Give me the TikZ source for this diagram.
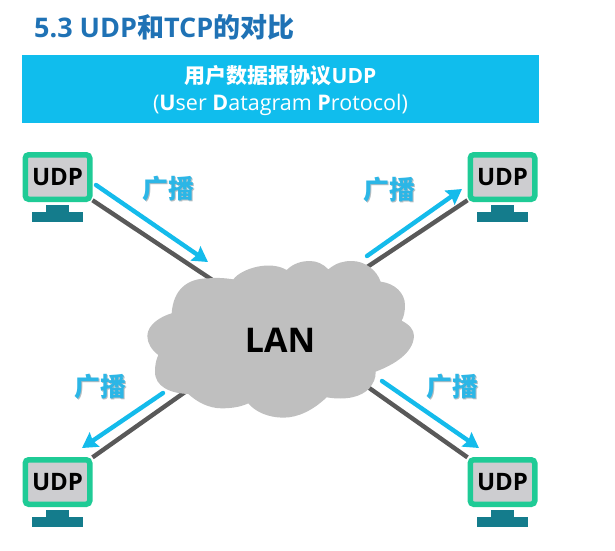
\documentclass[tikz,border=0pt]{standalone}
\usepackage{fontspec}
\setmainfont{Open Sans}
\newfontfamily\cjk{Noto Sans CJK SC}
\usetikzlibrary{arrows.meta,backgrounds}
\definecolor{bannerblue}{HTML}{10BDED}
\definecolor{titleblue}{HTML}{1F72B5}
\definecolor{arrowblue}{HTML}{14BBEB}
\definecolor{labelblue}{HTML}{2CB6E6}
\definecolor{labelshade}{HTML}{B5BCC0}
\definecolor{screengreen}{HTML}{1FCB96}
\definecolor{screengray}{HTML}{CDCDD0}
\definecolor{standteal}{HTML}{147C8C}
\definecolor{linegray}{HTML}{595959}
\definecolor{cloudgray}{HTML}{BFBFBF}
\newcommand{\sz}[1]{\fontsize{#1}{#1}\selectfont}
\newcommand{\gblabel}{\sz{26}\bfseries\cjk
  \setbox0=\hbox{广播}%
  \rlap{\raisebox{-1.2pt}{\hspace{1pt}\textcolor{labelshade}{\copy0}}}%
  \textcolor{labelblue}{\box0}}
\tikzset{
  x=1pt,y=-1pt,
  banner/.style={fill=bannerblue,draw=none,inner sep=0,minimum width=517pt,minimum height=68pt},
  bannertext/.style={inner sep=0,text=white,align=center,yshift=-2pt},
  monitor/.style={draw=screengreen,line width=5.5pt,fill=screengray,rounded corners=3.5pt,
    minimum width=64.5pt,minimum height=44.5pt,inner sep=0,font=\sz{24}\bfseries},
  neck/.style={fill=standteal,inner sep=0,minimum width=23pt,minimum height=9pt},
  base/.style={fill=standteal,inner sep=0,minimum width=50.5pt,minimum height=10pt},
  wire/.style={draw=linegray,line width=4.4pt},
  cast/.style={draw=arrowblue,line width=4.4pt,line cap=round,
    -{Stealth[length=15pt,width=17pt,inset=2pt]}},
  gb/.style={inner sep=0},
}
\begin{document}
\begin{tikzpicture}
\useasboundingbox (0,0) rectangle (615,550);

\node[anchor=west,inner sep=0,text=titleblue,font=\sz{27}\bfseries] (title) at (34,27) {5.3 UDP{\cjk 和}TCP{\cjk 的对比}};
\node[banner] (head) at (280.5,88.5) {};
\node[bannertext] (headtext) at (head.center) {{\sz{21}\bfseries\cjk 用户数据报协议}{\sz{21}\bfseries UDP}\\[8pt]
  {\sz{21.5}(\textbf{U}ser \textbf{D}atagram \textbf{P}rotocol)}};

% cloud
\begin{scope}[xshift=130pt,yshift=-260pt,x=.3333pt,y=-.3333pt]
\fill[cloudgray] (125,160) .. controls (130,90) and (170,55) .. (235,55)
 .. controls (265,52) and (290,55) .. (310,58)
 .. controls (335,25) and (420,0) .. (470,30)
 .. controls (490,10) and (515,3) .. (540,3)
 .. controls (560,3) and (580,12) .. (595,28)
 .. controls (620,8) and (640,3) .. (665,3)
 .. controls (705,3) and (740,30) .. (752,65)
 .. controls (795,70) and (825,100) .. (825,135)
 .. controls (825,155) and (822,170) .. (815,182)
 .. controls (840,195) and (852,210) .. (852,228)
 .. controls (850,280) and (790,315) .. (737,335)
 .. controls (738,355) and (730,370) .. (718,385)
 .. controls (695,410) and (650,422) .. (590,412)
 .. controls (550,450) and (505,473) .. (460,473)
 .. controls (415,473) and (375,455) .. (355,430)
 .. controls (330,442) and (300,445) .. (275,445)
 .. controls (235,445) and (200,425) .. (175,402)
 .. controls (120,400) and (75,380) .. (75,335)
 .. controls (75,315) and (78,300) .. (85,285)
 .. controls (65,270) and (52,250) .. (52,228)
 .. controls (52,195) and (90,170) .. (125,160) -- cycle;
\end{scope}
\coordinate (hub) at (280,325);
\node[inner sep=0,font=\sz{34}\bfseries] (lan) at (280,340) {LAN};

% monitors
\node[monitor] (tl) at (57.5,177) {UDP};
\node[neck] (tln) at (57.5,209) {}; \node[base] (tlb) at (57.5,217) {};
\node[monitor] (tr) at (502.5,177) {UDP};
\node[neck] (trn) at (502.5,209) {}; \node[base] (trb) at (502.5,217) {};
\node[monitor] (bl) at (57.5,482) {UDP};
\node[neck] (bln) at (57.5,514) {}; \node[base] (blb) at (57.5,522) {};
\node[monitor] (br) at (502.5,482) {UDP};
\node[neck] (brn) at (502.5,514) {}; \node[base] (brb) at (502.5,522) {};

% wires behind everything
\begin{pgfonlayer}{background}
\draw[wire] (hub) -- (tl);
\draw[wire] (hub) -- (tr);
\draw[wire] (hub) -- (bl);
\draw[wire] (hub) -- (br);
\end{pgfonlayer}

% broadcast arrows
\coordinate (a1s) at (96,185);  \coordinate (a1e) at (208,262);
\coordinate (a2s) at (367,256); \coordinate (a2e) at (462,189);
\coordinate (a3s) at (163,393); \coordinate (a3e) at (82,448);
\coordinate (a4s) at (382,381); \coordinate (a4e) at (479,448);
\draw[cast] (a1s) -- (a1e);
\draw[cast] (a2s) -- (a2e);
\draw[cast] (a3s) -- (a3e);
\draw[cast] (a4s) -- (a4e);

\node[gb] (g1) at (168,189) {\gblabel};
\node[gb] (g2) at (389,190) {\gblabel};
\node[gb] (g3) at (100,387) {\gblabel};
\node[gb] (g4) at (452,387) {\gblabel};
\end{tikzpicture}
\end{document}
